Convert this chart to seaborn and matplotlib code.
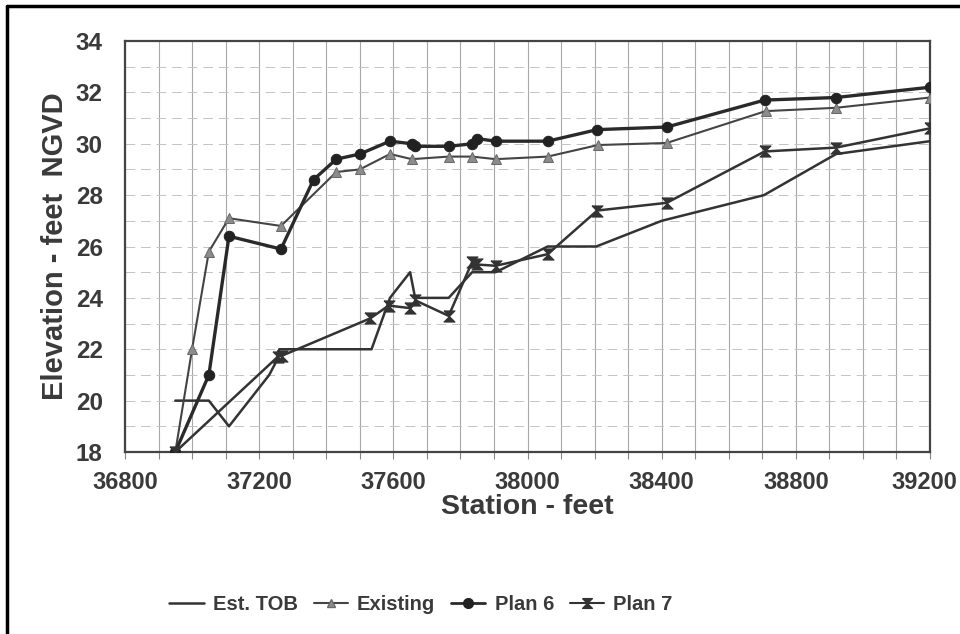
import matplotlib
matplotlib.use("Agg")
import matplotlib.pyplot as plt
import matplotlib.transforms as mtransforms
from matplotlib.lines import Line2D
import seaborn as sns
import pandas as pd

# ---- data ----
tob_x = [36950, 37050, 37110, 37230, 37250, 37260, 37535, 37590, 37650, 37665,
         37765, 37835, 37905, 38060, 38205, 38400, 38705, 38920, 39200]
tob_y = [20.0, 20.0, 19.0, 21.0, 21.5, 22.0, 22.0, 24.0, 25.0, 24.0,
         24.0, 25.0, 25.0, 26.0, 26.0, 27.0, 28.0, 29.6, 30.1]

exist_x = [36950, 37000, 37050, 37110, 37265, 37430, 37500, 37590, 37655, 37765,
           37835, 37905, 38060, 38210, 38415, 38710, 38920, 39200]
exist_y = [18.0, 22.0, 25.8, 27.1, 26.8, 28.9, 29.0, 29.6, 29.4, 29.5,
           29.5, 29.4, 29.5, 29.95, 30.03, 31.27, 31.4, 31.8]

plan6_x = [36950, 37050, 37110, 37265, 37362, 37430, 37500, 37590, 37655, 37666,
           37765, 37835, 37850, 37905, 38060, 38208, 38415, 38707, 38920, 39200]
plan6_y = [18.0, 21.0, 26.4, 25.9, 28.6, 29.4, 29.6, 30.1, 30.0, 29.9,
           29.9, 30.0, 30.2, 30.1, 30.1, 30.55, 30.65, 31.7, 31.8, 32.2]

plan7_x = [36950, 37255, 37268, 37531, 37586, 37651, 37666, 37765, 37835, 37848,
           37905, 38060, 38208, 38415, 38707, 38920, 39200]
plan7_y = [18.0, 21.7, 21.75, 23.2, 23.7, 23.6, 23.9, 23.3, 25.4, 25.3,
           25.25, 25.7, 27.4, 27.7, 29.7, 29.85, 30.6]

x_ticks = [36800, 37200, 37600, 38000, 38400, 38800, 39200]
y_ticks = [18, 20, 22, 24, 26, 28, 30, 32, 34]
series_names = ["Est. TOB", "Existing", "Plan 6", "Plan 7"]

sns.set_style("white")
plt.rcParams["font.family"] = ["Liberation Sans", "DejaVu Sans"]
plt.rcParams["font.weight"] = "bold"

fig = plt.figure(figsize=(9.6, 6.34), dpi=100)
ax = fig.add_axes([125 / 960, 1 - 452 / 634, (930 - 125) / 960, (452 - 41) / 634])

dark = "#333333"
txt = "#3a3a3a"
hourglass = [(-1, 1), (1, 1), (-1, -1), (1, -1), (-1, 1)]

# grid
for gx in range(36800, 39201, 100):
    ax.axvline(gx, color="#a8a8a8", lw=0.8, zorder=0)
for gy in range(18, 35):
    ax.axhline(gy, color="#c4c4c4", lw=0.7, ls=(0, (10, 6)), zorder=0)

df_tob = pd.DataFrame({"x": tob_x, "y": tob_y})
df_ex = pd.DataFrame({"x": exist_x, "y": exist_y})
df_p6 = pd.DataFrame({"x": plan6_x, "y": plan6_y})
df_p7 = pd.DataFrame({"x": plan7_x, "y": plan7_y})

sns.lineplot(data=df_tob, x="x", y="y", ax=ax, sort=False, estimator=None,
             color=dark, lw=1.8, zorder=3)
sns.lineplot(data=df_ex, x="x", y="y", ax=ax, sort=False, estimator=None,
             color="#444444", lw=1.5, marker="^", markersize=7,
             markerfacecolor="#8c8c8c", markeredgecolor="#6a6a6a", zorder=4)
sns.lineplot(data=df_p6, x="x", y="y", ax=ax, sort=False, estimator=None,
             color="#2a2a2a", lw=2.4, marker="o", markersize=7.5,
             markerfacecolor="#222222", markeredgecolor="#222222", zorder=5)
sns.lineplot(data=df_p7, x="x", y="y", ax=ax, sort=False, estimator=None,
             color="#333333", lw=1.8, marker=hourglass, markersize=8,
             markerfacecolor="#333333", markeredgecolor="#333333", zorder=6)

ax.set_xlim(36800, 39200)
ax.set_ylim(18, 34)
ax.set_xticks(x_ticks)
ax.set_xticks(list(range(36800, 39201, 100)), minor=True)
ax.set_yticks(y_ticks)
ax.set_xticklabels([str(t) for t in x_ticks], fontsize=17, fontweight="bold", color=txt)
ax.set_yticklabels([str(t) for t in y_ticks], fontsize=17.5, fontweight="bold", color=txt)
ax.tick_params(axis="x", which="both", direction="out", length=5, width=0.8,
               color="#888888", pad=9, bottom=True)
ax.tick_params(axis="y", which="both", length=0, pad=16)

# last x label sits a little left so it stays inside the figure
last = ax.get_xticklabels()[-1]
last.set_transform(last.get_transform() +
                   mtransforms.ScaledTranslation(-6 / 100, 0, fig.dpi_scale_trans))

ax.set_xlabel("Station - feet", fontsize=20.5, fontweight="bold", color=txt, labelpad=0)
ax.set_ylabel("Elevation - feet  NGVD", fontsize=21, fontweight="bold", color=txt, labelpad=5)

for s in ax.spines.values():
    s.set_visible(True)
    s.set_color("#444444")
    s.set_linewidth(1.6)

handles = [
    Line2D([], [], color=dark, lw=1.8),
    Line2D([], [], color="#444444", lw=1.5, marker="^", markersize=6,
           markerfacecolor="#8c8c8c", markeredgecolor="#6a6a6a"),
    Line2D([], [], color="#2a2a2a", lw=2.0, marker="o", markersize=7,
           markerfacecolor="#222222", markeredgecolor="#222222"),
    Line2D([], [], color="#333333", lw=1.5, marker=hourglass, markersize=7,
           markerfacecolor="#333333", markeredgecolor="#333333"),
]
leg = fig.legend(handles, series_names, loc="center", bbox_to_anchor=(421 / 960, 1 - 605 / 634),
                 ncol=4, frameon=False, handlelength=1.7, handletextpad=0.45,
                 columnspacing=0.8, prop={"size": 14.5, "weight": "bold"})
for t in leg.get_texts():
    t.set_color(txt)

# outer frame of the figure (left and top edges)
fx0, fx1, fy1 = 7 / 960, 1.0, 1 - 6 / 634
for (xs, ys) in [([fx0, fx0], [0, fy1]), ([fx0, fx1], [fy1, fy1])]:
    fig.add_artist(Line2D(xs, ys, transform=fig.transFigure, color="black", lw=2.5))

fig.savefig("out.png", dpi=100)
